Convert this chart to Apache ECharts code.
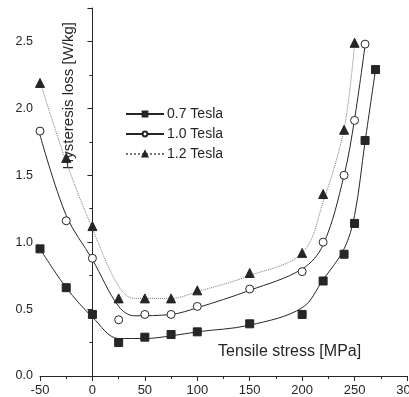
<!DOCTYPE html>
<html>
<head>
<meta charset="utf-8">
<script src="https://cdn.jsdelivr.net/npm/echarts@6/dist/echarts.min.js"></script>
<style>
  html, body { margin: 0; padding: 0; background: #fff; }
  #chart { width: 409px; height: 397px; }
</style>
</head>
<body>
<div id="chart"></div>
<script>
// measured points
const stress07 = [-50, -25, 0, 25, 50, 75, 100, 150, 200, 220, 240, 250, 260, 270]
const loss07 = [0.95, 0.66, 0.46, 0.25, 0.29, 0.31, 0.33, 0.39, 0.46, 0.71, 0.91, 1.14, 1.76, 2.29]
const stress10 = [-50, -25, 0, 25, 50, 75, 100, 150, 200, 220, 240, 250, 260]
const loss10 = [1.83, 1.16, 0.88, 0.42, 0.46, 0.46, 0.52, 0.65, 0.78, 1.0, 1.5, 1.91, 2.48]
const stress12 = [-50, -25, 0, 25, 50, 75, 100, 150, 200, 220, 240, 250]
const loss12 = [2.19, 1.63, 1.12, 0.58, 0.58, 0.58, 0.64, 0.77, 0.92, 1.36, 1.84, 2.49]

// fitted curves
const fitX07 = [-50, -25, 0, 25, 50, 75, 100, 150, 200, 220, 240, 250, 260, 270]
const fitY07 = [0.95, 0.66, 0.44, 0.28, 0.28, 0.30, 0.33, 0.38, 0.51, 0.72, 0.95, 1.2, 1.75, 2.29]
const fitX10 = [-50, -25, 0, 25, 40, 75, 100, 150, 200, 220, 240, 250, 260]
const fitY10 = [1.8, 1.2, 0.87, 0.52, 0.45, 0.46, 0.51, 0.64, 0.80, 0.98, 1.5, 1.92, 2.47]
const fitX12 = [-50, -25, 0, 25, 40, 75, 100, 150, 200, 220, 240, 250]
const fitY12 = [2.2, 1.6, 1.1, 0.67, 0.58, 0.58, 0.63, 0.75, 0.92, 1.3, 1.85, 2.48]

const legendNames = ["0.7 Tesla", "1.0 Tesla", "1.2 Tesla"]

const ink = "#262626"
const font = "Liberation Sans"

const pairs = (xs, ys) => xs.map((x, i) => [x, ys[i]])

const chart = echarts.init(document.getElementById("chart"))

const fitLine = (name, xs, ys, symbol, fill, type, color) => ({
    name: name,
    type: "line",
    data: pairs(xs, ys),
    smooth: 0.35,
    showSymbol: false,
    symbol: symbol,
    symbolSize: 7,
    lineStyle: { color: color, width: 1, type: type },
    itemStyle: { color: fill, borderColor: ink, borderWidth: 1 },
    z: 2,
})

const points = (xs, ys, symbol, size, fill) => ({
    type: "scatter",
    data: pairs(xs, ys),
    symbol: symbol,
    symbolSize: size,
    itemStyle: { color: fill, borderColor: ink, borderWidth: 1, opacity: 1 },
    z: 3,
})

const option = {
    animation: false,
    textStyle: { fontFamily: font },
    grid: { left: 40, right: 2, top: 8, bottom: 21, outerBoundsMode: "none" },
    legend: {
        data: legendNames,
        orient: "vertical",
        left: 120,
        top: 102,
        itemWidth: 38,
        itemHeight: 6,
        itemGap: 6,
        textStyle: { fontFamily: font, fontSize: 14, color: ink, padding: [0, 0, 0, -2] },
    },
    xAxis: {
        type: "value",
        min: -50,
        max: 300,
        interval: 50,
        axisLine: { lineStyle: { color: ink, width: 1 } },
        axisTick: { length: 5, lineStyle: { color: ink } },
        minorTick: { show: true, splitNumber: 2, length: 3, lineStyle: { color: ink } },
        axisLabel: { color: ink, fontSize: 13, fontFamily: font, margin: 8 },
        splitLine: { show: false },
    },
    yAxis: {
        type: "value",
        min: 0,
        max: 2.75,
        interval: 0.5,
        axisLine: { show: true, lineStyle: { color: ink, width: 1 } },
        axisTick: { show: true, length: 5, lineStyle: { color: ink } },
        minorTick: { show: true, splitNumber: 2, length: 3, lineStyle: { color: ink } },
        axisLabel: {
            color: ink, fontSize: 12.5, fontFamily: font, margin: 7,
            showMaxLabel: false,
            formatter: (v) => v.toFixed(1),
        },
        splitLine: { show: false },
    },
    graphic: [
        {
            type: "text",
            left: 61,
            top: 22,
            rotation: Math.PI / 2,
            style: { text: "Hysteresis loss [W/kg]", font: "15px " + font, fill: ink },
        },
        {
            type: "text",
            left: 218,
            top: 344,
            style: { text: "Tensile stress [MPa]", font: "16px " + font, fill: ink },
        },
    ],
    series: [
        fitLine(legendNames[0], fitX07, fitY07, "rect", ink, "solid", ink),
        fitLine(legendNames[1], fitX10, fitY10, "circle", "#fff", "solid", ink),
        fitLine(legendNames[2], fitX12, fitY12, "triangle", ink, "dotted", "#777"),
        points(stress07, loss07, "rect", 8, ink),
        points(stress10, loss10, "circle", 8, "#fff"),
        points(stress12, loss12, "triangle", 9, ink),
    ],
}

chart.setOption(option)

window.addEventListener("resize", () => chart.resize())
</script>
</body>
</html>
